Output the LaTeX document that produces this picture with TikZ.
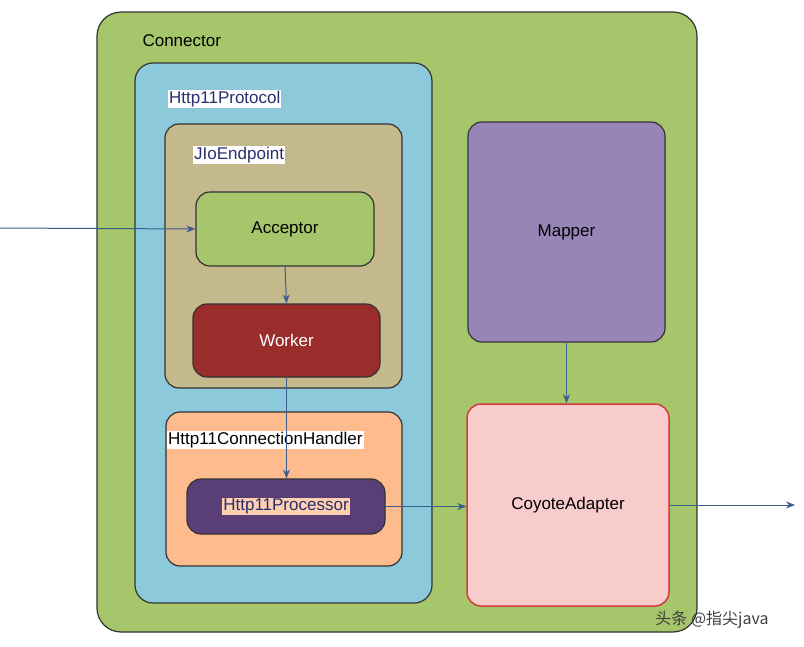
\documentclass[tikz,border=0pt]{standalone}
\usepackage{fontspec}
\setmainfont{Liberation Sans}
\newfontfamily\cjk{Noto Sans CJK SC}
\usetikzlibrary{arrows.meta}
\definecolor{cgreen}{HTML}{A5C66A}
\definecolor{cblue}{HTML}{8CCADB}
\definecolor{ctan}{HTML}{C4B98C}
\definecolor{cred}{HTML}{9B2C2C}
\definecolor{corange}{HTML}{FDBB8E}
\definecolor{cpurple}{HTML}{5A3F77}
\definecolor{cmapper}{HTML}{9885B7}
\definecolor{cpink}{HTML}{F9CCCC}
\definecolor{cborder}{HTML}{D43B3B}
\definecolor{cline}{HTML}{3B5F8A}
\definecolor{ctext}{HTML}{2B2D6E}
\begin{document}
\begin{tikzpicture}[x=1pt,y=-1pt,font=\fontsize{17}{19}\selectfont,
 box/.style={draw=black!80,line width=1.2pt,rounded corners=14pt},
 lab/.style={fill=white,inner sep=1pt,anchor=west,text=ctext},
 arr/.style={draw=cline,line width=1pt,-{Stealth[length=9pt,width=7pt]}}]
\useasboundingbox (0,0) rectangle (804,646);
\fill[white] (0,0) rectangle (804,646);
\draw[box,fill=cgreen,rounded corners=24pt] (97,12) rectangle (697,632);
\node[anchor=west] (lconn) at (139,41) {Connector};
\draw[box,fill=cblue,rounded corners=18pt] (135,63) rectangle (432,603);
\node[lab] (lproto) at (168,99) {Http11Protocol};
\draw[box,fill=ctan] (165,124) rectangle (402,388);
\node[lab] (lend) at (193,155) {JIoEndpoint};
\node[box,fill=cgreen,minimum width=178pt,minimum height=74pt] (acc) at (285,229) {Acceptor};
\node[box,fill=cred,text=white,minimum width=187pt,minimum height=73pt] (wrk) at (286.5,340.5) {Worker};
\draw[box,fill=corange] (166,412) rectangle (402,566);
\node[lab,text=black] (lhand) at (167,440) {Http11ConnectionHandler};
\node[box,fill=cpurple,minimum width=198pt,minimum height=55pt] (proc) at (286,506.5) {};
\node[fill=corange!70!white,inner sep=1pt,text=ctext] (lproc) at (proc) {Http11Processor};
\node[box,fill=cmapper,minimum width=197pt,minimum height=220pt] (map) at (566.5,232) {Mapper};
\node[draw=cborder,line width=1.5pt,rounded corners=14pt,fill=cpink,minimum width=202pt,minimum height=202pt] (coy) at (568,505) {CoyoteAdapter};
\coordinate (in) at (0,228);
\coordinate (out) at (795,505);
\draw[arr] (in) -- (acc.west);
\draw[arr] (acc.south) -- (wrk.north);
\draw[arr] (wrk.south) -- (wrk.south |- proc.north);
\draw[arr] (proc.east) -- (proc.east -| coy.west);
\draw[arr] (map.south) -- (map.south |- coy.north);
\draw[arr] (coy.east) -- (out);
\node[text=black!75,font=\cjk\fontsize{16}{18}\selectfont] (wm) at (712,620) {头条 @指尖java};
\end{tikzpicture}
\end{document}
